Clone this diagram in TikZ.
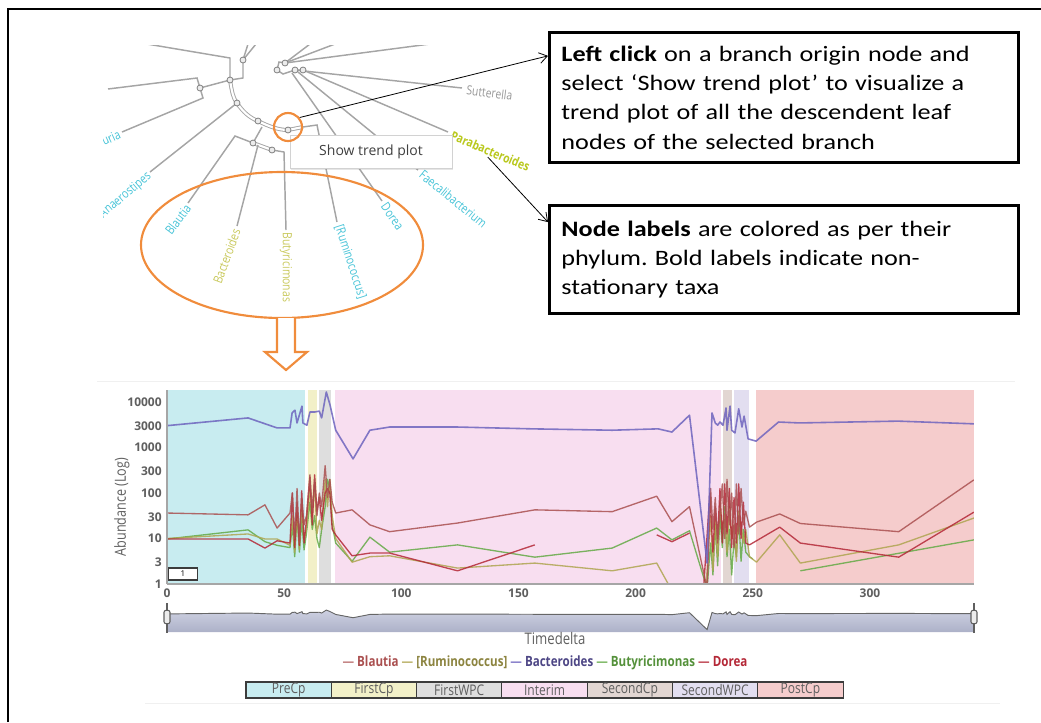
\documentclass[tikz,border=0pt]{standalone}
\usepackage{fontspec}
\setmainfont{Open Sans}
\newfontfamily\callfont{Carlito}[FakeStretch=1.19]
\newfontfamily\condfont{Open Sans}[FakeStretch=0.82]
\usetikzlibrary{arrows.meta,shadows,shapes.geometric}
\frenchspacing

\definecolor{branchc}{RGB}{165,165,165}
\definecolor{orangec}{RGB}{240,140,60}
\definecolor{labcyan}{RGB}{70,195,215}
\definecolor{labyel}{RGB}{200,200,90}
\definecolor{labpara}{RGB}{185,200,30}
\definecolor{labgrey}{RGB}{150,150,150}
\definecolor{cPre}{RGB}{200,236,240}
\definecolor{cFirst}{RGB}{242,240,200}
\definecolor{cFirstW}{RGB}{222,222,222}
\definecolor{cInt}{RGB}{248,222,240}
\definecolor{cSec}{RGB}{226,214,210}
\definecolor{cSecW}{RGB}{226,222,240}
\definecolor{cPost}{RGB}{245,204,204}
\definecolor{cBac}{RGB}{110,100,190}
\definecolor{cBla}{RGB}{170,80,80}
\definecolor{cDor}{RGB}{180,40,55}
\definecolor{cRum}{RGB}{175,165,80}
\definecolor{cBut}{RGB}{100,170,70}
\definecolor{axisgrey}{RGB}{95,95,95}
\definecolor{boxedge}{RGB}{60,60,60}

% Bacteroides abundance: (time, log10 abundance)
\newcommand\bacpath{(0,3.48) -- (34.6,3.65) -- (47,3.43) -- (52.5,3.43) -- (53.4,3.76) -- (54.6,3.82) -- (55.5,3.54) -- (57.6,3.91) -- (58,3.54) -- (59.7,3.49) -- (61,3.78) -- (63,3.78) -- (65,3.8) -- (66,3.65) -- (68,4.22) -- (69.6,3.93) -- (72,3.38) -- (79.4,2.75) -- (86.6,3.38) -- (95,3.45) -- (124,3.45) -- (156,3.41) -- (190,3.38) -- (209.6,3.41) -- (215.5,3.34) -- (223,3.71) -- (230.5,0.46) -- (232.6,3.76) -- (234,3.54) -- (235,3.49) -- (236,3.56) -- (237.3,3.49) -- (238.6,3.87) -- (239,3.38) -- (240.3,3.91) -- (241,3.38) -- (242.4,3.32) -- (244,3.85) -- (245.4,3.45) -- (246.3,3.69) -- (248,3.19) -- (251.4,3.14) -- (261,3.56) -- (270,3.54) -- (312,3.58) -- (344.4,3.52)}

\begin{document}
\begin{tikzpicture}[x=0.75pt,y=-0.75pt,
  branch/.style={draw=branchc, line width=1.1pt},
  selpath/.style={draw=branchc, line width=0.7pt, double=white, double distance=1.6pt},
  tnode/.style={circle, draw=gray, fill=gray!15, line width=0.6pt, inner sep=0pt, minimum size=4.5pt},
  leaf/.style={font=\condfont\fontsize{9.5}{10}\selectfont, inner sep=1pt},
  callout/.style={draw=black, line width=2.2pt, fill=white, align=left, inner xsep=9pt, inner ysep=0pt,
    font=\callfont\fontsize{16.5}{22}\selectfont},
  pointer/.style={draw=black, line width=0.6pt, -{Straight Barb[length=6pt,width=8pt]}},
  ring/.style={draw=orangec, line width=1.6pt, inner sep=0pt},
  series/.style={line width=1pt, opacity=0.85, line join=round},
  tick/.style={font=\bfseries\fontsize{9}{10}\selectfont, text=axisgrey, inner sep=1pt},
  phasebox/.style={draw=boxedge, line width=0.8pt, minimum width=64pt, minimum height=12pt, inner sep=0pt,
    font=\condfont\fontsize{11}{11}\selectfont, text=axisgrey},
  handle/.style={draw=axisgrey, fill=gray!15, line width=0.8pt, rounded corners=1.5pt,
    minimum width=4.5pt, minimum height=10pt, inner sep=0pt}
]
\useasboundingbox (0,0) rectangle (1041,722);

% outer frame
\draw[line width=2.2pt] (8,722) -- (8,9) -- (1041,9);

% ---------------- tree view ----------------
\begin{scope}
\clip (103,45) rectangle (531,305);
% upper-left branches
\draw[branch] (147,44) -- (230,58) -- (230,80);
\draw[branch] (230,80) -- (243,78) -- (243,60) -- (248,44);
\draw[branch] (243,60) -- (256,44);
\draw[branch] (108,89) -- (197,78) -- (200,88) -- (203,98) -- (122,132);
\draw[branch] (200,88) -- (230,80);
% highlighted path to the selected node
\draw[selpath] (230,80) .. controls (232,92) and (233,98) .. (237,103)
  .. controls (243,112) and (250,118) .. (258,121)
  .. controls (268,126) and (278,130) .. (288,130) -- (303,127);
\draw[branch] (237,103) -- (150,172);
\draw[branch] (262,127) -- (253,143);
\draw[branch] (253,143) -- (235,136) -- (188,203);
\draw[selpath] (253,143) -- (272,150);
\draw[branch] (258,145) -- (237,226);
\draw[branch] (272,150) -- (284,152) -- (286,230);
\draw[branch] (303,127) -- (317,125) -- (337,222);
% upper-right cluster
\draw[branch] (277,70) -- (279,62) -- (285,63);
\draw[branch] (277,70) -- (283,74) -- (295,70) -- (303,70);
\draw[branch] (285,63) -- (310,44);
\draw[branch] (285,63) -- (335,44);
\draw[branch] (285,63) -- (430,44);
\draw[branch] (295,70) -- (462,88);
\draw[branch] (303,70) -- (448,132);
\draw[branch] (298,72) -- (418,170);
\draw[branch] (292,73) -- (382,201);
% internal nodes
\foreach \p [count=\k] in {(230,80),(243,60),(200,88),(237,103),(258,121),(288,130),(253,143),(272,150),(285,63),(295,70),(303,70),(277,70)}
  \node[tnode] (tn\k) at \p {};
% leaf labels
\node[leaf, text=labgrey, anchor=west, rotate=-7] (sutt) at (465,90) {Sutterella};
\node[leaf, text=labpara, anchor=west, rotate=-23, font=\condfont\bfseries\fontsize{9.5}{10}\selectfont] (parab) at (450,134) {Parabacteroides};
\node[leaf, text=labcyan, anchor=west, rotate=-39] (faec) at (420,172) {Faecalibacterium};
\node[leaf, text=labcyan, anchor=west, rotate=-55] (dorea) at (383,203) {Dorea};
\node[leaf, text=labcyan, anchor=west, rotate=-72] (rumi) at (338,224) {[Ruminococcus]};
\node[leaf, text=labyel, anchor=west, rotate=-90] (buty) at (286,231) {Butyricimonas};
\node[leaf, text=labyel, anchor=east, rotate=70] (bact) at (237,228) {Bacteroides};
\node[leaf, text=labcyan, anchor=east, rotate=53] (blau) at (189,205) {Blautia};
\node[leaf, text=labcyan, anchor=east, rotate=40] (anae) at (151,174) {Anaerostipes};
\node[leaf, text=labcyan, anchor=east, rotate=25] (uria) at (121,133) {uria};
% context menu
\node[draw=gray!35, fill=white, drop shadow={opacity=0.2, shadow xshift=1pt, shadow yshift=-1.2pt},
  minimum width=121.5pt, minimum height=24.75pt, inner sep=0pt,
  font=\fontsize{10.5}{12}\selectfont, text=black!75] (menu) at (371,151.5) {Show trend plot};
\end{scope}

% selection rings
\node[ring, circle, minimum size=21pt] (selc) at (288,127) {};
\node[ring, ellipse, minimum width=211.5pt, minimum height=109.5pt] (group) at (282,245) {};
\draw[draw=orangec, fill=white, line width=1.6pt, line join=miter]
  (277,318) -- (277,352) -- (265,352) -- (286,370) -- (307,352) -- (295,352) -- (295,318);

% ---------------- callouts ----------------
\node[callout, anchor=north west, minimum width=351.75pt, minimum height=97.5pt, text width=333.75pt] (note1) at (548,31)
  {\textbf{Left click} on a branch origin node and\\select ‘Show trend plot’ to visualize a\\trend plot of all the descendent leaf\\nodes of the selected branch};
\node[callout, anchor=north west, minimum width=351.75pt, minimum height=81pt, text width=333.75pt] (note2) at (548,204)
  {\textbf{Node labels} are colored as per their\\phylum. Bold labels indicate non-\\stationary taxa};
\draw[pointer] (selc.39) -- (note1.170);
\draw[pointer] (parab.south) -- (note2.171);

% ---------------- trend plot ----------------
\draw[gray!12, line width=0.6pt] (97,381) -- (1015,381);
\begin{scope}[shift={(167,584)}, x=1.7573pt, y=34.125pt]
  \fill[cPre] (0,0) rectangle (58.9,4.264);
  \fill[cFirst] (60.2,0) rectangle (64.2,4.264);
  \fill[cFirstW] (64.9,0) rectangle (70.0,4.264);
  \fill[cInt] (71.7,0) rectangle (236.4,4.264);
  \fill[cSec] (237.3,0) rectangle (241.1,4.264);
  \fill[cSecW] (242.0,0) rectangle (248.4,4.264);
  \fill[cPost] (251.4,0) rectangle (344.4,4.264);
  \begin{scope}
  \clip (0,0) rectangle (344.4,4.264);
  % Butyricimonas
  \draw[series, cBut] (0,0.99) -- (34.6,1.19) -- (41.8,0.93) -- (47,0.85) -- (52.5,0.8) -- (53.5,1.3) -- (54.5,0.6) -- (55.5,1.5) -- (56.5,0.7) -- (57.5,1.4) -- (58.5,0.75) -- (59.5,1.1) -- (61,1.8) -- (62,1.2) -- (63,1.5) -- (64,1.0) -- (65,0.8) -- (66,1.2) -- (67.5,1.7) -- (68.5,2.3) -- (69.5,2.1) -- (70.5,1.3) -- (72,0.9) -- (79,0.5) -- (86.6,1.03) -- (95,0.70) -- (124,0.86) -- (157,0.59) -- (190,0.79) -- (209,1.23) -- (215.5,0.97) -- (223,1.17) -- (230.5,-0.1) -- (232,0.9) -- (233,0.2) -- (234,1.3) -- (235,0.4) -- (236,1.5) -- (237,0.8) -- (238,1.7) -- (239,0.6) -- (240,1.2) -- (241,0.2) -- (242,1.0) -- (243,0.6) -- (244,1.5) -- (245,0.5) -- (246,1.2) -- (247,0.7) -- (248.6,0.6) -- (250,0.55);
  \draw[series, cBut] (270.3,0.29) -- (344.4,0.97);
  % Ruminococcus
  \draw[series, cRum] (0,1.0) -- (34.6,1.1) -- (41.8,0.99) -- (47,0.99) -- (52.5,0.85) -- (53.5,1.5) -- (54.5,0.7) -- (55.5,1.6) -- (56.5,0.75) -- (57.5,1.7) -- (58.5,0.95) -- (59.5,1.2) -- (61,2.1) -- (62,1.5) -- (63,2.2) -- (64,1.1) -- (65,1.4) -- (66,1.2) -- (67.5,2.3) -- (68.5,1.7) -- (69.5,2.3) -- (70.5,1.5) -- (72,1.0) -- (79,0.48) -- (86.6,0.6) -- (95,0.62) -- (124,0.35) -- (157,0.46) -- (190,0.29) -- (209,0.46) -- (215,-0.1);
  \draw[series, cRum] (230,-0.1) -- (232,1.5) -- (233,0.3) -- (234,1.4) -- (235,0.6) -- (236,1.8) -- (237,1.2) -- (238,1.5) -- (239,0.7) -- (240,1.7) -- (241,1.0) -- (242,1.3) -- (243,0.5) -- (244,1.6) -- (245,1.3) -- (246,0.9) -- (247,1.2) -- (248.6,0.6) -- (251.6,0.48) -- (261.5,1.08) -- (270.3,0.46) -- (312.3,0.86) -- (344.4,1.45);
  % Dorea
  \draw[series, cDor] (0,0.99) -- (34.6,0.99) -- (41.8,0.79) -- (47,0.95) -- (52.5,0.9) -- (53.5,2.0) -- (54.5,0.8) -- (55.5,1.8) -- (56.5,0.85) -- (57.5,2.05) -- (58.5,0.9) -- (59.5,1.4) -- (61,2.35) -- (62,1.3) -- (63,2.4) -- (64,1.6) -- (65,1.9) -- (66,1.4) -- (67.5,2.0) -- (68.5,2.1) -- (69.5,2.0) -- (70.5,1.2) -- (72,1.08) -- (79,0.62) -- (86.6,0.68) -- (95,0.68) -- (124,0.29) -- (157,0.86);
  \draw[series, cDor] (209,1.08) -- (215.5,0.93) -- (223,1.12);
  \draw[series, cDor] (229,-0.1) -- (231.7,2.0) -- (233,0.7) -- (234,1.7) -- (235,1.0) -- (236,2.1) -- (237,0.9) -- (238,2.2) -- (239,1.1) -- (240,2.1) -- (241,0.8) -- (242,1.9) -- (243,0.9) -- (244,2.2) -- (245,1.0) -- (246,1.8) -- (247,0.9) -- (248.6,0.86) -- (261.5,1.25) -- (270.3,0.9) -- (312.3,0.59) -- (344.4,1.58);
  % Blautia
  \draw[series, cBla] (0,1.56) -- (34.6,1.52) -- (41.8,1.74) -- (47,1.23) -- (52.5,1.56) -- (53.5,2.0) -- (54.5,1.0) -- (55.5,2.1) -- (56.5,0.9) -- (57.5,1.9) -- (58.5,1.3) -- (59.5,1.5) -- (61,2.4) -- (62,1.6) -- (63,2.3) -- (64,1.5) -- (65,2.0) -- (66,1.7) -- (67.5,2.6) -- (68.5,1.9) -- (69.5,2.3) -- (70.5,1.8) -- (72,1.56) -- (79,1.63) -- (86.6,1.30) -- (95,1.15) -- (124,1.34) -- (157,1.63) -- (190,1.59) -- (209,1.93) -- (215.5,1.37) -- (223,1.70) -- (230.5,-0.1) -- (232,2.1) -- (233,1.2) -- (234,1.9) -- (235,0.9) -- (236,1.6) -- (237,2.2) -- (238,1.0) -- (239,2.3) -- (240,1.3) -- (241,2.0) -- (242,0.8) -- (243,2.2) -- (244,1.1) -- (245,2.1) -- (246,1.3) -- (247,1.6) -- (248.6,1.25) -- (251.6,1.36) -- (261.5,1.54) -- (270.3,1.33) -- (312.3,1.15) -- (344.4,2.29);
  % Bacteroides
  \draw[series, cBac, line width=1.2pt] \bacpath;
  \end{scope}
  % axes
  \draw[gray!70, line width=0.8pt] (0,0) -- (344.4,0);
  \draw[gray!70, line width=0.8pt] (0,0) -- (0,4.264);
  \foreach \v in {0,50,...,300}
    \node[tick, anchor=north] (xt\v) at (\v,-0.08) {\v};
  \foreach \lab/\l in {10000/4,3000/3.477,1000/3,300/2.477,100/2,30/1.477,10/1,3/0.477,1/0}
    \node[tick, anchor=east] (yt\lab) at (-1.6,\l) {\lab};
\end{scope}
\node[font=\condfont\fontsize{11.5}{12}\selectfont, text=axisgrey, rotate=90] (ylab) at (122,507) {Abundance (Log)};
\node[draw=boxedge, fill=white, line width=0.8pt, minimum width=22pt, minimum height=9pt, inner sep=0pt,
  font=\fontsize{6}{7}\selectfont] (zoomlvl) at (183,574) {1};

% range navigator
\begin{scope}[shift={(167,632)}, x=1.7573pt, y=3.9pt]
  \shade[top color={rgb,255:red,205;green,208;blue,225}, bottom color={rgb,255:red,172;green,177;blue,200}]
    (0,0) -- \bacpath -- (344.4,0) -- cycle;
  \draw[gray!80!black, line width=0.7pt] \bacpath;
\end{scope}
\draw[axisgrey, line width=1.4pt] (167,603) -- (167,633);
\draw[axisgrey, line width=1.4pt] (974,603) -- (974,633);
\node[handle] (hleft) at (167,617) {};
\node[handle] (hright) at (974,617) {};
\node[font=\condfont\fontsize{12}{14}\selectfont, text=axisgrey] (xlab) at (555,638) {Timedelta};

% series legend
\node[font=\condfont\bfseries\fontsize{10.6}{12}\selectfont] (legend) at (545,663)
  {\textcolor{cBla!70}{—} \textcolor{cBla}{Blautia} \textcolor{cRum!80}{—} \textcolor{cRum!80!black}{[Ruminococcus]}
   \textcolor{cBac!80}{—} \textcolor{cBac!70!black}{Bacteroides} \textcolor{cBut!80}{—} \textcolor{cBut!85!black}{Butyricimonas} \textcolor{cDor!80}{—} \textcolor{cDor}{Dorea}};

% phase legend
\foreach \lab/\col [count=\i from 0] in {PreCp/cPre,FirstCp/cFirst,FirstWPC/cFirstW,Interim/cInt,SecondCp/cSec,SecondWPC/cSecW,PostCp/cPost}
  \node[phasebox, fill=\col] (ph\i) at ({246+85.3*(\i+0.5)},690) {\lab};
\draw[gray!12, line width=0.6pt] (145,703) -- (1000,703);
\end{tikzpicture}
\end{document}
